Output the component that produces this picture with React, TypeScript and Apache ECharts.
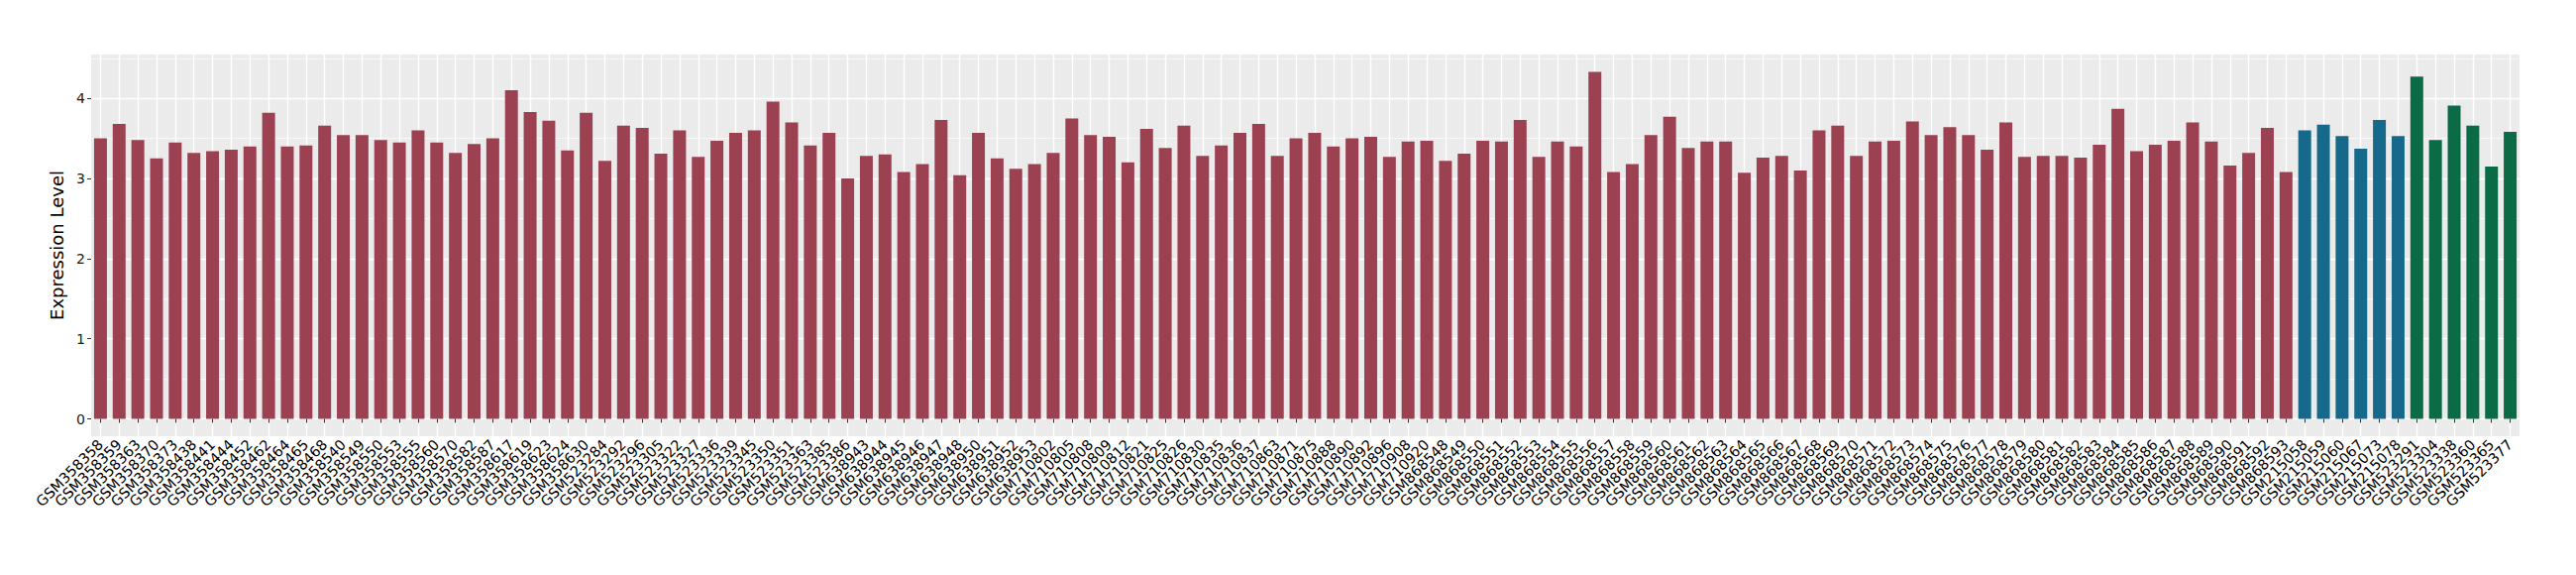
import React, { useEffect, useRef } from "react";
import * as echarts from "echarts";

const redSamples = [
  "GSM358358","GSM358359","GSM358363","GSM358370","GSM358373","GSM358438","GSM358441","GSM358444","GSM358452","GSM358462",
  "GSM358464","GSM358465","GSM358468","GSM358540","GSM358549","GSM358550","GSM358553","GSM358555","GSM358560","GSM358570",
  "GSM358582","GSM358587","GSM358617","GSM358619","GSM358623","GSM358624","GSM358630",
  "GSM523284","GSM523292","GSM523296","GSM523305","GSM523322","GSM523327","GSM523336","GSM523339","GSM523345","GSM523350",
  "GSM523351","GSM523363","GSM523385","GSM523386",
  "GSM638943","GSM638944","GSM638945","GSM638946","GSM638947","GSM638948","GSM638950","GSM638951","GSM638952","GSM638953",
  "GSM710802","GSM710805","GSM710808","GSM710809","GSM710812","GSM710821","GSM710825","GSM710826","GSM710830","GSM710835",
  "GSM710836","GSM710837","GSM710863","GSM710871","GSM710875","GSM710888","GSM710890","GSM710892","GSM710896","GSM710908","GSM710920",
  "GSM868548","GSM868549","GSM868550","GSM868551","GSM868552","GSM868553","GSM868554","GSM868555","GSM868556","GSM868557",
  "GSM868558","GSM868559","GSM868560","GSM868561","GSM868562","GSM868563","GSM868564","GSM868565","GSM868566","GSM868567",
  "GSM868568","GSM868569","GSM868570","GSM868571","GSM868572","GSM868573","GSM868574","GSM868575","GSM868576","GSM868577",
  "GSM868578","GSM868579","GSM868580","GSM868581","GSM868582","GSM868583","GSM868584","GSM868585","GSM868586","GSM868587",
  "GSM868588","GSM868589","GSM868590","GSM868591","GSM868592","GSM868593",
];
const redValues = [
  3.5, 3.68, 3.48, 3.25, 3.45, 3.32, 3.34, 3.36, 3.4, 3.82,
  3.4, 3.41, 3.66, 3.54, 3.54, 3.48, 3.45, 3.6, 3.45, 3.32,
  3.43, 3.5, 4.1, 3.83, 3.72, 3.35, 3.82,
  3.22, 3.66, 3.63, 3.31, 3.6, 3.27, 3.47, 3.57, 3.6, 3.96,
  3.7, 3.41, 3.57, 3.0,
  3.28, 3.3, 3.08, 3.18, 3.73, 3.04, 3.57, 3.25, 3.12, 3.18,
  3.32, 3.75, 3.54, 3.52, 3.2, 3.62, 3.38, 3.66, 3.28, 3.41,
  3.57, 3.68, 3.28, 3.5, 3.57, 3.4, 3.5, 3.52, 3.27, 3.46, 3.47,
  3.22, 3.31, 3.47, 3.46, 3.73, 3.27, 3.46, 3.4, 4.33, 3.08,
  3.18, 3.54, 3.77, 3.38, 3.46, 3.46, 3.07, 3.26, 3.28, 3.1,
  3.6, 3.66, 3.28, 3.46, 3.47, 3.71, 3.54, 3.64, 3.54, 3.36,
  3.7, 3.27, 3.28, 3.28, 3.26, 3.42, 3.87, 3.34, 3.42, 3.47,
  3.7, 3.46, 3.16, 3.32, 3.63, 3.08,
];
const blueSamples = ["GSM215058","GSM215059","GSM215060","GSM215067","GSM215073","GSM215078"];
const blueValues = [3.6, 3.67, 3.53, 3.37, 3.73, 3.53];
const greenSamples = ["GSM523291","GSM523304","GSM523338","GSM523360","GSM523365","GSM523377"];
const greenValues = [4.27, 3.48, 3.91, 3.66, 3.15, 3.58];

const yTicks = [0, 1, 2, 3, 4];
const yMinorTicks = [0.5, 1.5, 2.5, 3.5, 4.5];
const yTitle = "Expression Level";

const RED = "#9c4152";
const BLUE = "#17698c";
const GREEN = "#0b6b47";

export default function App() {
  const ref = useRef<HTMLDivElement>(null);
  useEffect(() => {
    document.body.style.margin = "0";
    if (!ref.current) return;
    const chart = echarts.init(ref.current, undefined, { renderer: "svg" });
    const categories = [...redSamples, ...blueSamples, ...greenSamples];
    const data = [
      ...redValues.map((v) => ({ value: v, itemStyle: { color: RED } })),
      ...blueValues.map((v) => ({ value: v, itemStyle: { color: BLUE } })),
      ...greenValues.map((v) => ({ value: v, itemStyle: { color: GREEN } })),
    ];
    const yMin = -0.2165;
    const yMax = 4.5465;
    chart.setOption({
      animation: false,
      backgroundColor: "#ffffff",
      textStyle: { fontFamily: "DejaVu Sans" },
      grid: {
        left: 92,
        right: 57,
        top: 55,
        bottom: 140,
        show: true,
        backgroundColor: "#EBEBEB",
        borderWidth: 0,
        containLabel: false,
        outerBoundsMode: "none",
      },
      xAxis: {
        type: "category",
        data: categories,
        axisLine: { show: false },
        axisTick: { show: true, alignWithLabel: true, length: 4, lineStyle: { color: "#333333", width: 1 } },
        axisLabel: {
          rotate: 45,
          interval: 0,
          fontSize: 14.5,
          color: "#000000",
          fontFamily: "DejaVu Sans",
          margin: 6,
        },
        splitLine: { show: true, alignWithLabel: true, lineStyle: { color: "#ffffff", width: 1.4 } },
      },
      yAxis: [
        {
          type: "value",
          min: yMin,
          max: yMax,
          axisLine: { show: false },
          axisTick: { show: true, length: 4, customValues: yTicks, lineStyle: { color: "#333333", width: 1 } },
          axisLabel: { customValues: yTicks, fontSize: 14, color: "#1a1a1a", margin: 6, fontFamily: "DejaVu Sans" },
          splitLine: { show: true, lineStyle: { color: "#ffffff", width: 1.4 } },
          name: yTitle,
          nameLocation: "middle",
          nameGap: 19,
          nameTextStyle: { fontSize: 18, color: "#000000", fontFamily: "DejaVu Sans" },
        },
        {
          type: "value",
          min: yMin,
          max: yMax,
          position: "left",
          axisLine: { show: false },
          axisTick: { show: false, customValues: yMinorTicks },
          axisLabel: { show: false },
          splitLine: { show: true, lineStyle: { color: "#ffffff", width: 0.7 } },
          z: 0,
        },
      ],
      series: [
        {
          type: "bar",
          data,
          barWidth: 13,
          yAxisIndex: 0,
          z: 3,
        },
      ],
    });
    return () => chart.dispose();
  }, []);
  return <div ref={ref} style={{ width: 2600, height: 580 }} />;
}
